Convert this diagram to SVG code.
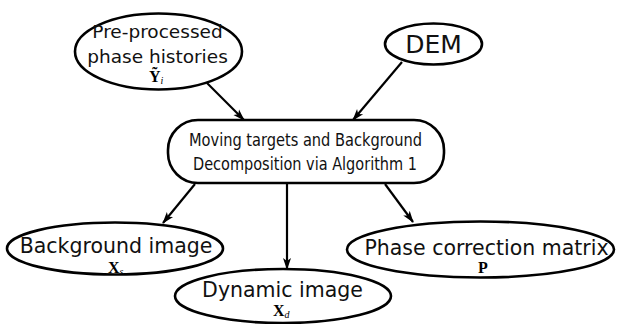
<svg xmlns="http://www.w3.org/2000/svg" width="617" height="324" viewBox="0 0 617 324">
<style>
.node{fill:#fff;stroke:#000;stroke-width:2.6}
.lbl{font-family:"DejaVu Sans","Liberation Sans",sans-serif;fill:#111;text-anchor:middle}
.cond{font-family:"DejaVu Sans Condensed","DejaVu Sans",sans-serif;font-stretch:condensed;fill:#111;text-anchor:middle}
.math{font-family:"Liberation Serif","DejaVu Serif",serif;fill:#000;font-size:16px;font-weight:bold}
.sub{font-size:10px;font-style:italic;font-weight:normal}
.edge{stroke:#000;stroke-width:2.2;fill:none;marker-end:url(#arr)}
</style>
<defs>
<marker id="arr" viewBox="0 0 12 10" refX="11" refY="5" markerWidth="12" markerHeight="10" markerUnits="userSpaceOnUse" orient="auto">
<path d="M0,1 L12,5 L0,9 L3,5 Z" fill="#000"/>
</marker>
</defs>
<g id="connectors">
<line class="edge" x1="207" y1="83" x2="244" y2="120"/>
<line class="edge" x1="402" y1="62" x2="353" y2="120"/>
<line class="edge" x1="195" y1="184" x2="163" y2="223"/>
<line class="edge" x1="287" y1="184" x2="287" y2="269"/>
<line class="edge" x1="385" y1="184" x2="413" y2="222"/>
</g>
<g id="preprocessed">
<ellipse class="node" cx="158.5" cy="51.5" rx="83.5" ry="38"/>
<text class="lbl" x="157.5" y="38" font-size="18.5">Pre-processed</text>
<text class="lbl" x="157.5" y="63" font-size="18.5">phase histories</text>
<text class="math" x="149" y="82">Ỹ<tspan class="sub" dy="2">i</tspan></text>
</g>
<g id="dem">
<ellipse class="node" cx="433.5" cy="44" rx="48.5" ry="20.5"/>
<text class="lbl" x="433.5" y="53" font-size="25">DEM</text>
</g>
<g id="decomposition">
<rect class="node" x="168" y="120" width="276" height="63" rx="30" ry="30"/>
<text class="cond" x="305.5" y="146" font-size="18.5" textLength="233" lengthAdjust="spacingAndGlyphs">Moving targets and Background</text>
<text class="cond" x="305" y="170" font-size="18.5" textLength="224" lengthAdjust="spacingAndGlyphs">Decomposition via Algorithm 1</text>
</g>
<g id="background">
<ellipse class="node" cx="115" cy="248.5" rx="108" ry="26"/>
<text class="lbl" x="116" y="253" font-size="20.5">Background image</text>
<text class="math" x="108" y="273">X<tspan class="sub" dy="2">s</tspan></text>
</g>
<g id="dynamic">
<ellipse class="node" cx="283" cy="296" rx="108" ry="27"/>
<text class="lbl" x="282.5" y="297" font-size="20.5">Dynamic image</text>
<text class="math" x="273" y="316" font-size="14">X<tspan class="sub" dy="2">d</tspan></text>
</g>
<g id="phasecorr">
<ellipse class="node" cx="480.5" cy="249.5" rx="133.5" ry="28"/>
<text class="lbl" x="486.5" y="255" font-size="20.5">Phase correction matrix</text>
<text class="math" x="478" y="273" font-size="14">P</text>
</g>
</svg>
